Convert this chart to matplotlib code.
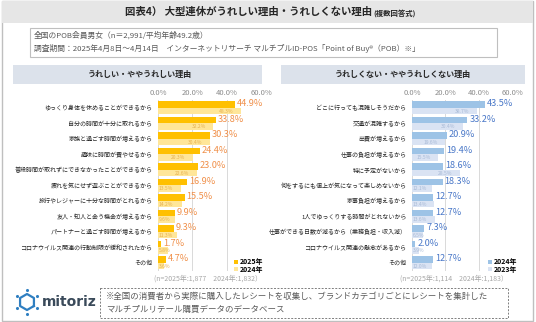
import numpy as np
import matplotlib.pyplot as plt
from matplotlib.patches import Rectangle, Patch

plt.rcParams['font.family'] = ['Noto Sans CJK JP', 'DejaVu Sans']

W, H = 536, 322

# ---- data ----
reasons_good = ['ゆっくり身体を休めることができるから', '自分の時間が十分に取れるから',
                '家族と過ごす時間が増えるから', '趣味に時間が費やせるから',
                '普段時間が取れずにできなかったことができるから', '疲れを気にせず遊ぶことができるから',
                '旅行やレジャーに十分な時間がとれるから', '友人・知人と会う機会が増えるから',
                'パートナーと過ごす時間が増えるから', 'コロナウイルス関連の行動制限が緩和されたから', 'その他']
good_2025 = [44.9, 33.8, 30.3, 24.4, 23.0, 16.9, 15.5, 9.9, 9.3, 1.7, 4.7]
good_2024 = [48.3, 32.2, 30.4, 20.3, 22.6, 13.5, 14.2, 9.6, 11.3, 5.8, 3.6]

reasons_bad = ['どこに行っても混雑しそうだから', '交通が混雑するから', '出費が増えるから',
               '仕事の負担が増えるから', '特に予定がないから', '何をするにも値上が気になって楽しめないから',
               '家事負担が増えるから', '1人でゆっくりする時間がとれないから',
               '仕事ができる日数が減るから（業務負担・収入減）', 'コロナウイルス関連の懸念があるから', 'その他']
bad_2024 = [43.5, 33.2, 20.9, 19.4, 18.6, 18.3, 12.7, 12.7, 7.3, 2.0, 12.7]
bad_2023 = [38.7, 30.4, 19.6, 15.5, 28.5, 12.1, 13.4, 13.6, 6.5, 3.9, 12.0]

ticks = [0, 20, 40, 60]


def px(x, y, w, h):
    return [x / W, 1 - (y + h) / H, w / W, h / H]


fig = plt.figure(figsize=(W / 100, H / 100), dpi=100)

# background canvas in pixel coordinates
bg = fig.add_axes([0, 0, 1, 1])
bg.set_xlim(0, W)
bg.set_ylim(H, 0)
bg.axis('off')

bg.add_patch(Rectangle((2, 0.5), 531, 320, fill=False, ec='#BFBFBF', lw=1))
bg.add_patch(Rectangle((2, 0.5), 531, 22.5, fc='#E6E6E6', ec='none'))
bg.text(372, 12, '図表4） 大型連休がうれしい理由・うれしくない理由', ha='right', va='center',
        fontsize=7.5, fontweight='bold', color='#262626')
bg.text(373, 13, '(複数回答式)', ha='left', va='center', fontsize=5.3,
        fontweight='bold', color='#262626')

bg.add_patch(Rectangle((30, 28), 467, 29, fill=False, ec='#BFBFBF', lw=0.8))
bg.text(34, 35.5, '全国のPOB会員男女（n＝2,991/平均年齢49.2歳）', ha='left', va='center',
        fontsize=5.6, color='#595959')
bg.text(34, 48.5, '調査期間：2025年4月8日～4月14日　インターネットリサーチ マルチプルID-POS「Point of Buy®（POB）※」',
        ha='left', va='center', fontsize=5.6, color='#595959')

# panel headings
bg.add_patch(Rectangle((13, 65), 249, 19, fc='#DCE2EB', ec='none'))
bg.text(140, 74.5, 'うれしい・ややうれしい理由', ha='center', va='center', fontsize=5.8,
        fontweight='bold', color='#262626')
bg.add_patch(Rectangle((281, 65), 244, 19, fc='#DCE2EB', ec='none'))
bg.text(403, 74.5, 'うれしくない・ややうれしくない理由', ha='center', va='center', fontsize=5.8,
        fontweight='bold', color='#262626')


def panel(x0, scale, labels, v1, v2, c1, c2, lc, sc, names, ntext, nx):
    ax = fig.add_axes(px(x0, 100, 60 * scale, 170.5))
    n = len(labels)
    y = np.arange(n)
    h = 0.42
    ax.barh(y - h / 2, v1, height=h, color=c1, zorder=3)
    ax.barh(y + h / 2, v2, height=h, color=c2, zorder=2)
    ax.set_xlim(0, 60)
    ax.set_ylim(n - 0.5, -0.5)
    ax.set_xticks(ticks)
    ax.set_xticklabels(['{:.1f}%'.format(t) for t in ticks], fontsize=5.5, color='#8C8C8C')
    ax.xaxis.tick_top()
    ax.tick_params(axis='x', length=0, pad=2)
    ax.set_yticks(y)
    ax.set_yticklabels(labels, fontsize=4.35, color='#262626')
    ax.tick_params(axis='y', length=0, pad=4)
    ax.grid(axis='x', color='#D9D9D9', lw=0.7, zorder=0)
    for s in ax.spines.values():
        s.set_visible(False)
    ax.patch.set_alpha(0)
    for i in range(n):
        ax.text(v1[i] + 1.2, i - h / 2 - 0.05, '{:.1f}%'.format(v1[i]), ha='left', va='center',
                fontsize=6.6, color=lc, zorder=4)
        xs = v2[i] - 4.4
        if xs - 11 < 0:
            ax.text(0.3, i + h / 2, '{:.1f}%'.format(v2[i]), ha='left', va='center',
                    fontsize=3.6, color=sc, zorder=4)
        else:
            ax.text(xs, i + h / 2, '{:.1f}%'.format(v2[i]), ha='right', va='center',
                    fontsize=3.6, color=sc, zorder=4)
    handles = [Patch(fc=c1), Patch(fc=c2)]
    ax.legend(handles, names, loc='upper left', bbox_to_anchor=((x0 + 73) / W, 1 - 255 / H),
              bbox_transform=fig.transFigure, frameon=False, handlelength=0.5,
              handleheight=0.5, handletextpad=0.2, labelspacing=0.05, borderpad=0,
              prop={'weight': 'bold', 'size': 5})
    bg.text(nx, 279, ntext, ha='center', va='center', fontsize=5, color='#A6A6A6')
    return ax


panel(158, 1.72, reasons_good, good_2025, good_2024, '#FFC000', '#FFE699',
      '#F0904A', '#E6B050', ['2025年', '2024年'], '(n=2025年:1,877　2024年:1,832）', 208)
panel(412, 1.67, reasons_bad, bad_2024, bad_2023, '#9DC3E6', '#DAE3F3',
      '#4A78C8', '#A8BAD6', ['2024年', '2023年'], '(n=2025年:1,114　2024年:1,183）', 454)

# mitoriz logo: ring of dots
ang = np.linspace(0, 2 * np.pi, 7)[:-1] + np.pi / 6
cx, cy, r = 27, 302, 8
hx = cx + r * np.cos(ang)
hy = cy + r * np.sin(ang)
bg.plot(np.append(hx, hx[0]), np.append(hy, hy[0]), color='#2F7FC1', lw=1.6)
bg.scatter(cx + 12 * np.cos(ang), cy + 12 * np.sin(ang), s=1.5, color='#2F7FC1')
bg.text(42, 302, 'mitoriz', ha='left', va='center', fontsize=10, fontweight='bold',
        color='#3A4A5A', family='DejaVu Sans')

bg.add_patch(Rectangle((100, 288), 408, 30, fill=False, ec='#7F7F7F', lw=0.7, ls=(0, (2, 1.5))))
bg.text(106, 296.5, '※全国の消費者から実際に購入したレシートを収集し、ブランドカテゴリごとにレシートを集計した',
        ha='left', va='center', fontsize=6.1, color='#595959')
bg.text(106, 309.5, 'マルチプルリテール購買データのデータベース', ha='left', va='center',
        fontsize=6.1, color='#595959')

fig.savefig('out.png', dpi=100)
